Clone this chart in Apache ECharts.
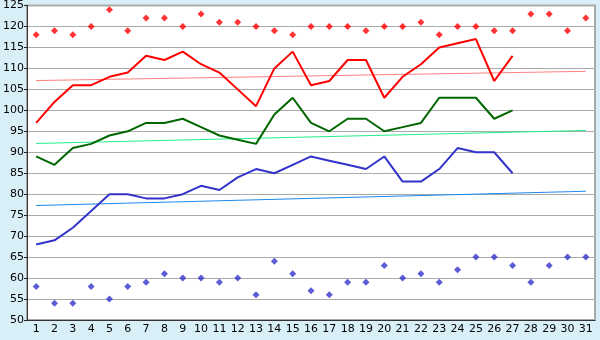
<!DOCTYPE html>
<html>
<head>
<meta charset="utf-8">
<script src="https://cdn.jsdelivr.net/npm/echarts@6/dist/echarts.min.js"></script>
<style>
  html, body { margin: 0; padding: 0; background: #d9eff7; }
  #chart { width: 600px; height: 340px; }
</style>
</head>
<body>
<div id="chart"></div>
<script>
// days of the month
var days = [];
for (var d = 1; d <= 31; d++) days.push(String(d));

// upper scatter (red diamonds)
var highPoints = [118, 119, 118, 120, 124, 119, 122, 122, 120, 123, 121, 121, 120, 119, 118, 120,
  120, 120, 119, 120, 120, 121, 118, 120, 120, 119, 119, 123, 123, 119, 122];
// lower scatter (blue diamonds)
var lowPoints = [58, 54, 54, 58, 55, 58, 59, 61, 60, 60, 59, 60, 56, 64, 61, 57,
  56, 59, 59, 63, 60, 61, 59, 62, 65, 65, 63, 59, 63, 65, 65];

// lines, days 1..27
var redLine = [97, 102, 106, 106, 108, 109, 113, 112, 114, 111, 109, 105, 101, 110, 114, 106,
  107, 112, 112, 103, 108, 111, 115, 116, 117, 107, 113];
var greenLine = [89, 87, 91, 92, 94, 95, 97, 97, 98, 96, 94, 93, 92, 99, 103, 97,
  95, 98, 98, 95, 96, 97, 103, 103, 103, 98, 100];
var blueLine = [68, 69, 72, 76, 80, 80, 79, 79, 80, 82, 81, 84, 86, 85, 87, 89,
  88, 87, 86, 89, 83, 83, 86, 91, 90, 90, 85];

// trend lines: [day index, value] at start and end
var redTrend = [[0, 107.1], [30, 109.3]];
var greenTrend = [[0, 92.1], [30, 95.2]];
var blueTrend = [[0, 77.3], [30, 80.7]];

var chart = echarts.init(document.getElementById('chart'));

function lineSeries(data, color, width) {
  return {
    type: 'line',
    data: data,
    symbol: 'none',
    silent: true,
    animation: false,
    lineStyle: { color: color, width: width }
  };
}

function dotSeries(data, color) {
  return {
    type: 'scatter',
    data: data,
    symbol: 'diamond',
    symbolSize: 7,
    silent: true,
    animation: false,
    itemStyle: { color: color }
  };
}

chart.setOption({
  backgroundColor: '#d9eff7',
  animation: false,
  grid: {
    left: 27, right: 5, top: 5, bottom: 20,
    show: true,
    backgroundColor: '#ffffff',
    borderColor: '#aaaaaa',
    borderWidth: 2
  },
  xAxis: {
    type: 'category',
    data: days,
    boundaryGap: true,
    axisLine: { lineStyle: { color: '#333333', width: 1 } },
    axisTick: { alignWithLabel: true, length: 5, lineStyle: { color: '#222222' } },
    axisLabel: { color: '#000', fontSize: 11, fontFamily: 'DejaVu Sans', margin: 4, interval: 0 },
    splitLine: { show: false }
  },
  yAxis: {
    type: 'value',
    min: 50, max: 125, interval: 5,
    axisLine: { show: true, lineStyle: { color: '#333333', width: 1 } },
    axisTick: { show: true, length: 3, lineStyle: { color: '#222222' } },
    axisLabel: { color: '#000', fontSize: 11, fontFamily: 'DejaVu Sans', margin: 3 },
    splitLine: { lineStyle: { color: '#aaaaaa', width: 1 } }
  },
  series: [
    lineSeries(redTrend, '#ff8080', 1),
    lineSeries(greenTrend, '#22ee88', 1),
    lineSeries(blueTrend, '#1e88ee', 1),
    lineSeries(redLine, '#ff0000', 2),
    lineSeries(greenLine, '#006600', 2),
    lineSeries(blueLine, '#3333cc', 2),
    dotSeries(highPoints, '#ff0000'),
    dotSeries(lowPoints, '#3333cc')
  ]
});
</script>
</body>
</html>
